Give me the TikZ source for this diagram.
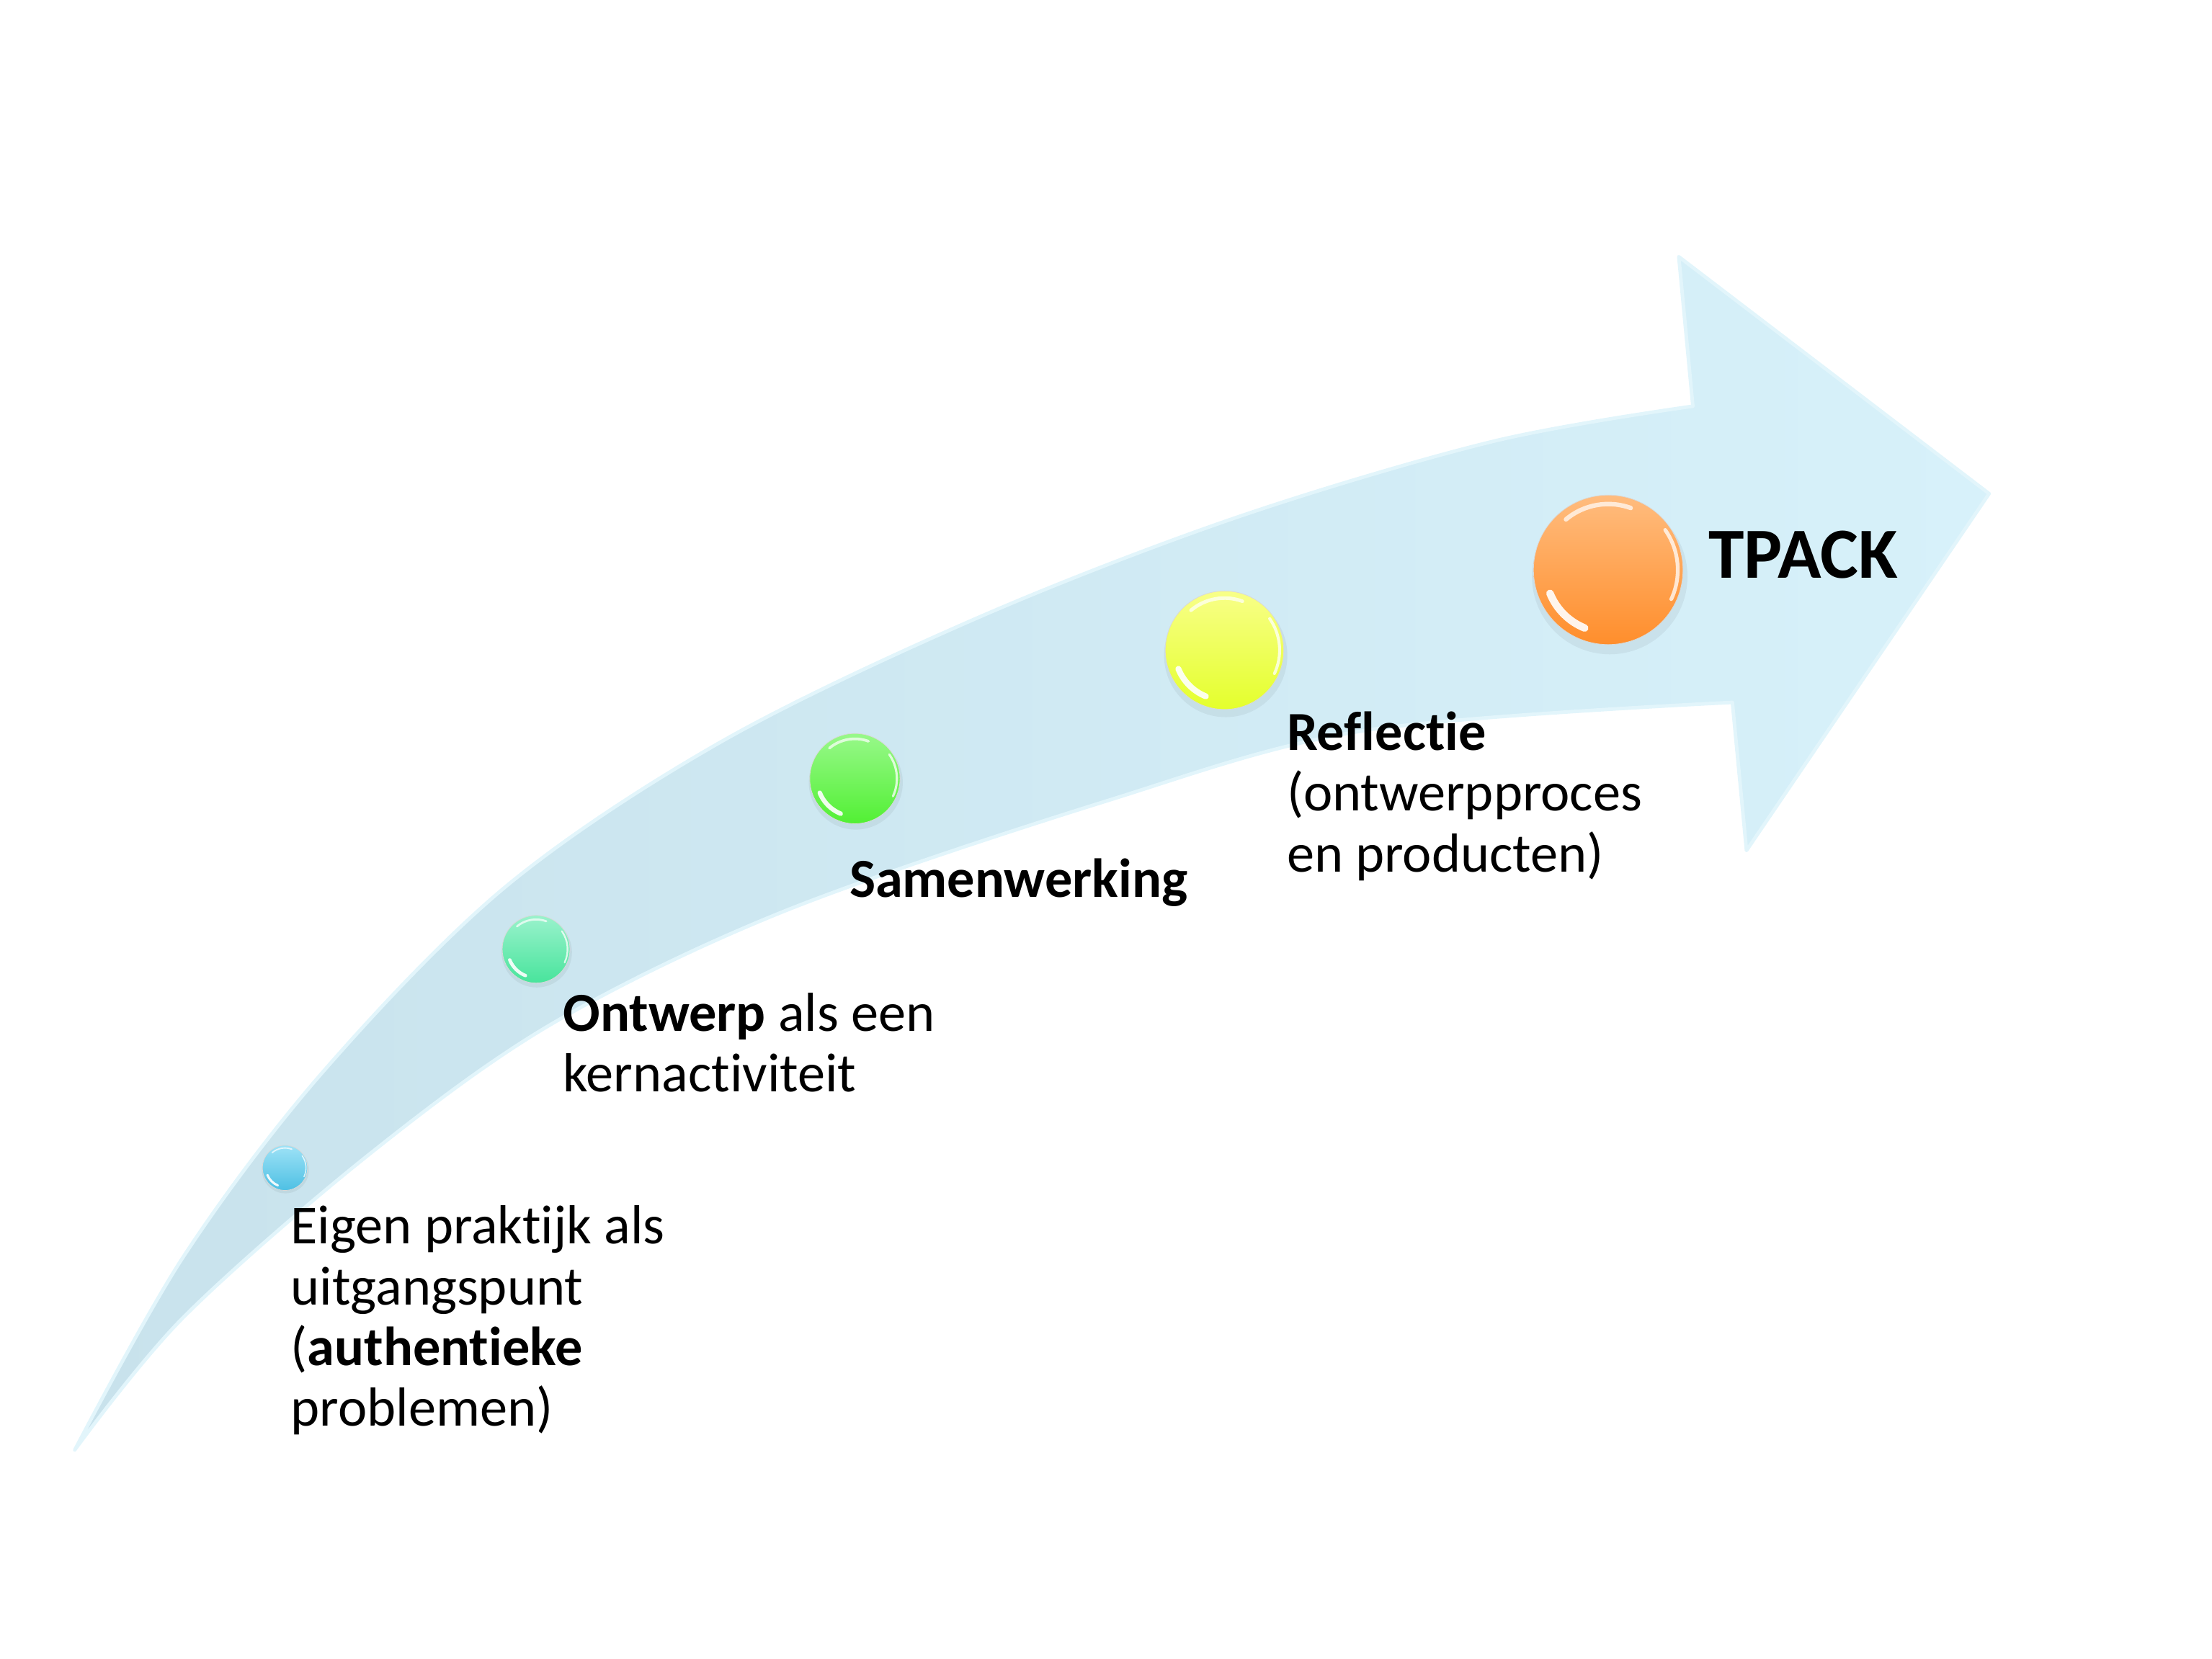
\documentclass[tikz,border=0pt]{standalone}
\usepackage{fontspec}
\setmainfont{Carlito}[Ligatures={NoCommon}]
\definecolor{arrowTail}{HTML}{C8E2EC}
\definecolor{arrowHead}{HTML}{D7F1FA}
\definecolor{arrowEdge}{HTML}{E2F5FB}
% glossy ball colours (top / bottom)
\definecolor{blueTop}{HTML}{9EE2F6}\definecolor{blueBot}{HTML}{4EC0E4}
\definecolor{tealTop}{HTML}{9AF2CC}\definecolor{tealBot}{HTML}{48E49C}
\definecolor{greenTop}{HTML}{98F88A}\definecolor{greenBot}{HTML}{52F034}
\definecolor{yellowTop}{HTML}{F8FF88}\definecolor{yellowBot}{HTML}{E4FF2C}
\definecolor{orangeTop}{HTML}{FFBC7E}\definecolor{orangeBot}{HTML}{FF8E2C}

% outline of the curved arrow
\newcommand\arrowoutline{%
  plot[smooth, tension=0.55] coordinates {(53,1028) (130,891) (228,761) (358,629)
    (511,526) (693,438) (876,367) (1058,313) (1200,288)}
  -- (1190,182) -- (1410,350) -- (1238,603) -- (1228,498)
  -- plot[smooth, tension=0.55] coordinates {(1228,498) (967,518) (784,568)
    (556,646) (391,726) (261,819) (130,934) (53,1028)} -- cycle}

% glossy ball: name, x, y, radius, top colour, bottom colour
\newcommand\glossball[6]{%
  \fill[black, opacity=0.05] (#2+0.02*#4, #3+0.09*#4) circle ({1.04*#4});
  \node[ballnode, minimum size={2*#4 pt}, top color=#5, bottom color=#6] (#1) at (#2,#3) {};
  \draw[white, opacity=0.9, line width={0.10*#4 pt}, line cap=round]
    ([shift={(112:0.84*#4)}]#2,#3) arc[start angle=112, end angle=158, radius=0.84*#4];
  \draw[white, opacity=0.75, line width={0.05*#4 pt}, line cap=round]
    ([shift={(-35:0.93*#4)}]#2,#3) arc[start angle=-35, end angle=25, radius=0.93*#4];
  \draw[white, opacity=0.7, line width={0.06*#4 pt}, line cap=round]
    ([shift={(230:0.88*#4)}]#2,#3) arc[start angle=230, end angle=290, radius=0.88*#4];
}

\tikzset{
  ballnode/.style={circle, inner sep=0pt, draw=black!15, line width=0.4pt},
  label/.style={anchor=base west, inner sep=0pt, align=left, text=black,
    font=\fontsize{39}{43}\selectfont},
  bigLabel/.style={anchor=base west, inner sep=0pt, text=black,
    font=\fontsize{51}{56}\selectfont\bfseries}
}

\begin{document}
\begin{tikzpicture}[x=1pt, y=-1pt]
\useasboundingbox (0,0) rectangle (1568,1176);

% the arrow
\shade[left color=arrowTail, right color=arrowHead] \arrowoutline;
\draw[arrowEdge, line width=2.5pt, line join=round] \arrowoutline;

% stepping stones
\glossball{b1}{202}{828}{16}{blueTop}{blueBot}
\glossball{b2}{380}{673}{24}{tealTop}{tealBot}
\glossball{b3}{606}{552}{32}{greenTop}{greenBot}
\glossball{b4}{868}{461}{42}{yellowTop}{yellowBot}
\glossball{b5}{1140}{404}{53}{orangeTop}{orangeBot}

% labels (anchored on the baseline of their last line)
\node[label] (t1) at (206,1011) {Eigen praktijk als\\uitgangspunt\\(\textbf{authentieke}\\problemen)};
\node[label] (t2) at (399,774) {\textbf{Ontwerp} als een\\kernactiviteit};
\node[label] (t3) at (602,636) {\textbf{Samenwerking}};
\node[label] (t4) at (912,618) {\textbf{Reflectie}\\(ontwerpproces\\en producten)};
\node[bigLabel] (t5) at (1211,410) {TPACK};
\end{tikzpicture}
\end{document}
